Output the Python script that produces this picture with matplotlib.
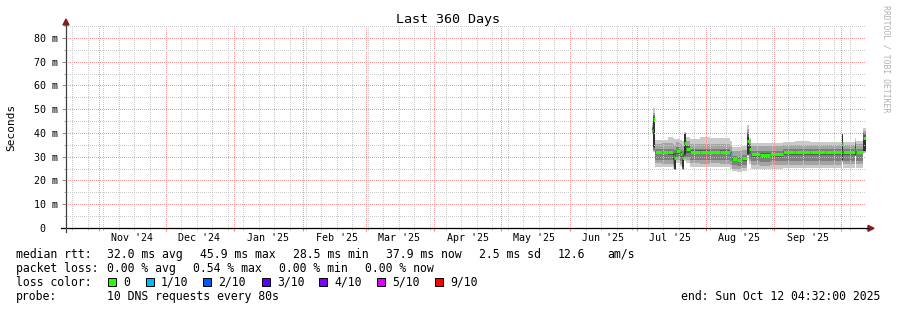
import matplotlib
matplotlib.use("Agg")
import matplotlib.pyplot as plt
import matplotlib.dates as mdates
import matplotlib.transforms as mtransforms
from matplotlib.patches import Rectangle, Polygon
from matplotlib.lines import Line2D
import pandas as pd

# ---------------- data ----------------
title = "Last 360 Days"
y_label = "Seconds"
watermark = "RRDTOOL / TOBI OETIKER"
range_end = "2025-10-12 04:32"
range_days = 360

month_labels = ["Nov '24", "Dec '24", "Jan '25", "Feb '25", "Mar '25", "Apr '25",
                "May '25", "Jun '25", "Jul '25", "Aug '25", "Sep '25"]
month_label_pos = ["2024-11-16", "2024-12-16", "2025-01-16", "2025-02-16", "2025-03-16",
                   "2025-04-16", "2025-05-16", "2025-06-16", "2025-07-16", "2025-08-16",
                   "2025-09-16"]

y_ticks = [0, 10, 20, 30, 40, 50, 60, 70, 80]
y_tick_labels = ["0  ", "10 m", "20 m", "30 m", "40 m", "50 m", "60 m", "70 m", "80 m"]
y_max = 85

# segments: start time, median rtt (ms), sorted pings 1..10 (ms), loss class
seg_start = ["2025-07-07 19:00", "2025-07-08 06:00", "2025-07-09 09:00", "2025-07-12 12:00",
             "2025-07-15 05:00", "2025-07-17 11:00", "2025-07-18 00:00", "2025-07-18 19:00",
             "2025-07-20 14:00", "2025-07-21 12:00", "2025-07-22 10:00", "2025-07-23 06:00",
             "2025-07-25 02:00", "2025-07-29 14:00", "2025-08-03 02:00", "2025-08-07 14:00",
             "2025-08-12 02:00", "2025-08-13 00:00", "2025-08-15 06:00", "2025-08-17 06:00",
             "2025-08-19 17:00", "2025-08-20 12:00", "2025-08-21 12:00", "2025-08-25 14:00",
             "2025-08-30 02:00", "2025-09-04 22:00", "2025-09-10 07:00", "2025-09-17 00:00",
             "2025-09-23 19:00", "2025-10-01 10:00", "2025-10-02 00:00", "2025-10-07 05:00",
             "2025-10-07 20:00", "2025-10-10 19:00"]
median_ms = [41.3, 45.9, 32.0, 32.0, 31.9, 30.5, 29.3, 32.3, 31.0, 29.5, 35.7, 33.3,
             32.1, 32.1, 32.0, 32.1, 31.2, 29.0, 28.6, 29.4, 36.5, 33.3, 31.0, 30.8,
             31.0, 31.9, 31.9, 31.8, 31.9, 35.6, 31.9, 33.1, 32.0, 37.9]
ping1 = [39.5, 32.0, 25.8, 25.5, 25.6, 25.0, 24.2, 27.5, 26.0, 24.4, 28.0, 27.5,
         25.8, 25.6, 25.8, 25.7, 25.0, 23.8, 23.6, 24.0, 30.5, 27.0, 25.0, 24.8,
         25.0, 25.2, 25.2, 25.1, 25.2, 27.9, 25.3, 30.3, 25.3, 31.5]
ping2 = [40.0, 32.5, 27.2, 27.0, 27.1, 26.0, 24.4, 28.5, 27.0, 24.6, 29.0, 28.5,
         27.2, 27.0, 27.2, 27.1, 26.5, 25.0, 24.8, 25.2, 30.6, 28.0, 26.4, 26.2,
         26.4, 26.7, 26.7, 26.6, 26.7, 28.1, 26.8, 30.4, 26.8, 32.0]
ping3 = [40.5, 33.0, 28.8, 28.6, 28.7, 27.0, 24.6, 29.8, 28.3, 24.8, 30.0, 29.8,
         28.8, 28.7, 28.8, 28.7, 28.0, 26.5, 26.2, 26.7, 30.7, 29.2, 28.0, 27.8,
         28.0, 28.3, 28.3, 28.2, 28.3, 28.3, 28.4, 30.5, 28.4, 32.5]
ping4 = [40.9, 33.5, 31.0, 31.0, 30.9, 28.5, 24.8, 31.3, 30.0, 25.0, 30.5, 31.5,
         31.1, 31.1, 31.0, 31.1, 30.2, 28.0, 27.6, 28.4, 30.8, 31.0, 30.0, 29.8,
         30.0, 30.9, 30.9, 30.8, 30.9, 28.5, 30.9, 30.6, 31.0, 32.6]
ping5 = [41.1, 34.0, 31.6, 31.6, 31.5, 29.0, 25.0, 31.9, 30.6, 25.5, 31.0, 32.8,
         31.7, 31.7, 31.6, 31.7, 30.8, 28.6, 28.2, 29.0, 31.0, 32.5, 30.6, 30.4,
         30.6, 31.5, 31.5, 31.4, 31.5, 28.7, 31.5, 30.8, 31.6, 32.6]
ping6 = [41.6, 46.3, 32.3, 32.3, 32.2, 31.5, 30.0, 32.6, 31.4, 30.0, 39.5, 33.8,
         32.4, 32.4, 32.3, 32.4, 31.5, 29.3, 28.9, 29.7, 38.5, 34.0, 31.3, 31.1,
         31.3, 32.2, 32.2, 32.1, 32.2, 39.3, 32.2, 34.0, 32.3, 38.2]
ping7 = [42.0, 47.0, 32.6, 32.6, 32.5, 32.3, 31.5, 33.0, 31.8, 31.0, 39.7, 34.3,
         32.7, 32.7, 32.6, 32.7, 31.8, 29.6, 29.2, 30.0, 39.5, 34.8, 31.6, 31.4,
         31.6, 32.5, 32.5, 32.4, 32.5, 39.5, 32.5, 35.0, 32.6, 39.0]
ping8 = [42.5, 47.5, 33.2, 33.3, 33.2, 33.3, 33.0, 34.0, 33.0, 32.5, 39.8, 35.0,
         33.3, 33.4, 33.3, 33.4, 32.6, 30.3, 30.0, 30.8, 40.5, 35.5, 32.4, 32.2,
         32.4, 33.2, 33.2, 33.1, 33.2, 39.7, 33.2, 35.8, 33.3, 40.0]
ping9 = [43.0, 48.5, 35.3, 35.6, 35.6, 35.5, 35.0, 36.0, 35.5, 34.5, 39.9, 36.8,
         35.4, 35.5, 35.3, 35.4, 34.6, 32.3, 32.2, 32.8, 41.5, 37.0, 34.4, 34.3,
         34.4, 35.1, 35.1, 35.0, 35.1, 39.8, 35.1, 36.8, 35.2, 41.0]
ping10 = [44.0, 50.5, 37.2, 37.0, 38.5, 38.0, 37.5, 37.5, 37.0, 36.5, 40.2, 38.5,
          37.6, 38.3, 37.9, 37.7, 36.5, 34.2, 34.0, 34.6, 43.2, 38.0, 35.8, 35.9,
          35.7, 36.2, 36.5, 36.0, 36.3, 40.0, 36.3, 37.8, 36.5, 42.0]
seg_loss = [0, 0, 0, 0, 0, 0, 0, 0, 0, 0, 0, 0, 0, 0, 0, 0, 1, 0, 0, 0, 0, 0, 0, 0,
            0, 0, 0, 0, 0, 0, 0, 0, 0, 0]

loss_colors = ["#26ff00", "#00b8ff", "#0059ff", "#5e00ff", "#7e00ff", "#dd00ff", "#ff0000"]
loss_labels = ["0", "1/10", "2/10", "3/10", "4/10", "5/10", "9/10"]
smoke_colors = ["#cacaca", "#a4a4a4", "#7e7e7e", "#585858", "#323232"]

rtt_stats = ["32.0 ms avg", "45.9 ms max", "28.5 ms min", "37.9 ms now", "2.5 ms sd", "12.6", "am/s"]
loss_stats = ["0.00 % avg", "0.54 % max", "0.00 % min", "0.00 % now"]
probe_text = "10 DNS requests every 80s"
end_text = "end: Sun Oct 12 04:32:00 2025"

# ---------------- layout ----------------
W, H = 897, 310
MONO = "DejaVu Sans Mono"
fig = plt.figure(figsize=(W / 100, H / 100), dpi=100)
fig.patch.set_facecolor("white")
L, R, T, B = 66.0, 866.0, 26.0, 228.0
ax = fig.add_axes([L / W, 1 - B / H, (R - L) / W, (B - T) / H])
ax.set_facecolor("white")


def fx(x):
    return x / W


def fy(y):
    return 1 - y / H


end_ts = pd.Timestamp(range_end)
start_ts = end_ts - pd.Timedelta(days=range_days)
ax.set_xlim(mdates.date2num(start_ts), mdates.date2num(end_ts))
ax.set_ylim(0, y_max)

# smoke
edges = mdates.date2num(pd.to_datetime(seg_start + [range_end]))
pings = [ping1, ping2, ping3, ping4, ping5, ping6, ping7, ping8, ping9, ping10]
for i in range(5):
    lo = pings[i] + [pings[i][-1]]
    hi = pings[9 - i] + [pings[9 - i][-1]]
    ax.fill_between(edges, lo, hi, step="post", color=smoke_colors[i],
                    linewidth=0, zorder=1, antialiased=False)

# median coloured by loss
ax.hlines(median_ms, edges[:-1], edges[1:], colors=[loss_colors[k] for k in seg_loss],
          linewidth=2.2, zorder=4)

# grid
month_starts = pd.date_range(start_ts.normalize(), end_ts, freq="MS")
sundays = pd.date_range(start_ts.normalize(), end_ts, freq="W-SUN")
ax.set_xticks(mdates.date2num(month_starts))
ax.set_xticks(mdates.date2num(sundays), minor=True)
ax.set_xticklabels([])
ax.set_yticks(y_ticks)
ax.set_yticks(list(range(5, y_max + 1, 10)), minor=True)
ax.set_yticklabels(y_tick_labels, fontfamily=MONO, fontsize=7.2)
ax.set_axisbelow(False)
dots = (0.5, (1, 1))
ax.grid(which="major", color="#f59a9a", linestyle=dots, linewidth=0.72, zorder=2)
ax.grid(which="minor", color="#cbcbcb", linestyle=dots, linewidth=0.72, zorder=2)
ax.tick_params(axis="y", which="major", length=3.0, width=0.72, color="#909090", pad=2.5)
ax.tick_params(axis="y", which="minor", length=1.6, width=0.72, color="#b0b0b0")
ax.tick_params(axis="x", which="major", length=2.2, width=0.72, color="#ff8080")
ax.tick_params(axis="x", which="minor", length=1.6, width=0.72, color="#c0c0c0")
for s in ax.spines.values():
    s.set_visible(False)

# month labels
lab_tr = mtransforms.offset_copy(ax.get_xaxis_transform(), fig=fig, x=0, y=-5, units="dots")
for pos, lab in zip(month_label_pos, month_labels):
    ax.text(mdates.date2num(pd.Timestamp(pos)), 0, lab, transform=lab_tr, ha="center",
            va="top", fontfamily=MONO, fontsize=7.2, color="#000000")

# axes lines and arrows
fig.add_artist(Line2D([fx(61), fx(868)], [fy(228.3), fy(228.3)], color="#000000", lw=0.9))
fig.add_artist(Line2D([fx(66), fx(66)], [fy(232), fy(24)], color="#404040", lw=0.9))
arrow_c = "#8b1a1a"
fig.add_artist(Polygon([[fx(66), fy(19)], [fx(63), fy(25)], [fx(69), fy(25)]], closed=True,
                       color=arrow_c, transform=fig.transFigure))
fig.add_artist(Polygon([[fx(874), fy(228.3)], [fx(868), fy(225.3)], [fx(868), fy(231.3)]],
                       closed=True, color=arrow_c, transform=fig.transFigure))

# titles
fig.text(fx(448), fy(20), title, ha="center", va="center", fontfamily=MONO, fontsize=9.6,
         color="#000000")
fig.text(fx(11), fy(127), y_label, ha="center", va="center", rotation=90, fontfamily=MONO,
         fontsize=8.0, color="#000000")
fig.text(fx(886), fy(5), watermark, ha="center", va="top", rotation=270, fontfamily=MONO,
         fontsize=5.9, color="#b0b0b0")

# legend
fs = 8.3
rows = [254.3, 268.3, 282.3, 296.3]


def t(x, y, s, ha="left"):
    fig.text(fx(x), fy(y), s, ha=ha, va="center", fontfamily=MONO, fontsize=fs, color="#000000")


t(16, rows[0], "median rtt:")
for x, s in zip([107, 200, 293, 386, 479, 558, 607], rtt_stats):
    t(x, rows[0], s)
t(16, rows[1], "packet loss:")
for x, s in zip([107, 193, 279, 365], loss_stats):
    t(x, rows[1], s)
t(16, rows[2], "loss color:")
box_x = [108, 146, 203, 262, 319, 377, 435]
for bx, c, lab in zip(box_x, loss_colors, loss_labels):
    fig.add_artist(Rectangle((fx(bx), fy(rows[2] + 4)), 8 / W, 8 / H, facecolor=c,
                             edgecolor="#000000", linewidth=0.7, transform=fig.transFigure))
    t(bx + 15, rows[2], lab)
t(16, rows[3], "probe:")
t(107, rows[3], probe_text)
t(880, rows[3], end_text, ha="right")

fig.savefig("out.png", dpi=100, facecolor="white")
